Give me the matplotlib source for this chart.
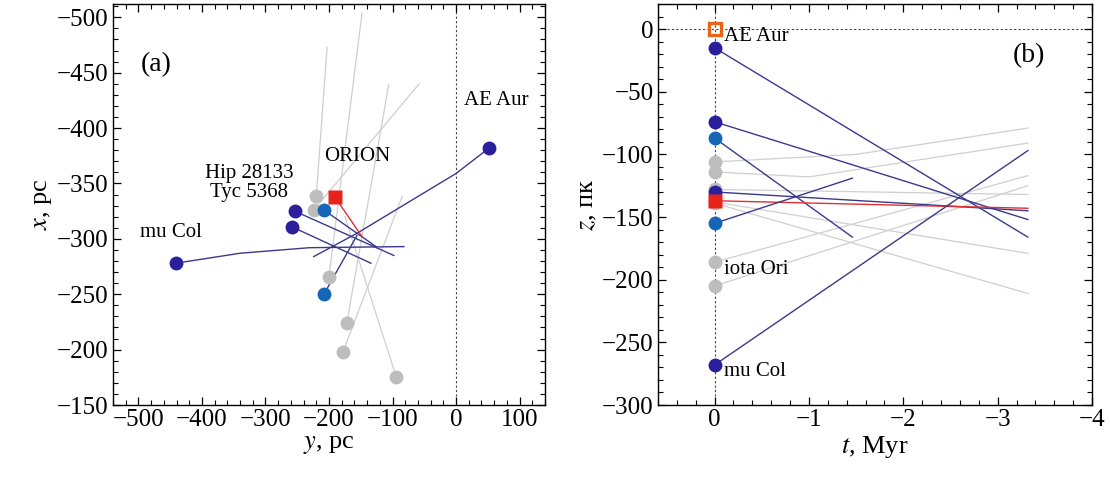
import matplotlib
matplotlib.use("Agg")
import matplotlib.pyplot as plt
from matplotlib.ticker import MultipleLocator

plt.rcParams['font.family'] = ['Liberation Serif', 'DejaVu Serif']
plt.rcParams['mathtext.fontset'] = 'stix'

# ---------------- data: panel (a), positions (y, x) in pc ----------------
# colored stars: trajectories as polylines (y list, x list); first point = present position
a_col_names = ["AE Aur", "mu Col", "Hip 28133", "Tyc 5368", "blue1", "blue2", "ORION"]
a_col_y = [[52, 0, -156, -224],
           [-441, -340, -231, -82],
           [-254, -98],
           [-259, -134],
           [-208, -126],
           [-208, -156],
           [-191, -148]]
a_col_x = [[-382, -359, -305, -284],
           [-278, -287, -292, -293],
           [-325, -285],
           [-311, -278],
           [-326, -293],
           [-250, -303],
           [-338, -302]]
a_col_kind = ["indigo", "indigo", "indigo", "indigo", "blue", "blue", "red"]

# gray stars
a_gray_y = [[-220, -203], [-224, -58], [-200, -148], [-172, -106], [-178, -85], [-94, -175]]
a_gray_x = [[-339, -473], [-326, -440], [-266, -504], [-224, -439], [-198, -338], [-175, -320]]

# ---------------- data: panel (b), z(t) ----------------
b_col_t = [[0, -3.32], [0, -3.32], [0, -1.46], [0, -3.32], [0, -3.32], [0, -1.46], [0, -3.32]]
b_col_z = [[-15, -166], [-74, -152], [-87, -166], [-130, -145], [-137, -143], [-155, -119], [-268, -97]]
b_col_kind = ["indigo", "indigo", "blue", "indigo", "red", "blue", "indigo"]

b_gray_t = [[0, -1.5, -3.32], [0, -1.0, -3.32], [0, -3.32], [0, -3.32], [0, -3.32], [0, -3.32], [0, -3.32]]
b_gray_z = [[-106, -100, -79], [-114, -118, -91], [-186, -117], [-205, -125], [-128, -132], [-138, -179], [-139, -211]]

sun_t, sun_z = 0, 0

colors = {"indigo": "#2b1f9c", "blue": "#1566b7", "red": "#e8231c", "gray": "#bdbdbd"}
linecolors = {"indigo": "#3a3a8c", "blue": "#3a3a8c", "red": "#e03030", "gray": "#cfcfcf"}

fig = plt.figure(figsize=(11.1, 4.87), dpi=100)
ax1 = fig.add_axes([113/1110, 82/487, 432/1110, 401/487])
ax2 = fig.add_axes([658/1110, 82/487, 434/1110, 401/487])

MS = 10
# ---- panel (a)
for ys, xs in zip(a_gray_y, a_gray_x):
    ax1.plot(ys, xs, color=linecolors["gray"], lw=0.9, zorder=1)
for ys, xs, k in zip(a_col_y, a_col_x, a_col_kind):
    ax1.plot(ys, xs, color=linecolors[k], lw=1.0, zorder=2)
for ys, xs in zip(a_gray_y, a_gray_x):
    ax1.plot(ys[0], xs[0], 'o', ms=MS, color=colors["gray"], mec='none', zorder=3)
for ys, xs, k in zip(a_col_y, a_col_x, a_col_kind):
    m = 's' if k == "red" else 'o'
    ax1.plot(ys[0], xs[0], m, ms=MS, color=colors[k], mec='none', zorder=4)

ax1.axvline(0, color='#444444', lw=0.8, ls=(0, (2, 2)), zorder=0)
ax1.set_xlim(-540, 140)
ax1.set_ylim(-150, -512)
ax1.xaxis.set_major_locator(MultipleLocator(100))
ax1.xaxis.set_minor_locator(MultipleLocator(20))
ax1.yaxis.set_major_locator(MultipleLocator(50))
ax1.yaxis.set_minor_locator(MultipleLocator(10))
ax1.set_xlabel("$y$, pc", fontsize=19, labelpad=2)
ax1.set_ylabel("$x$, pc", fontsize=19, labelpad=2)

tf = 15
ax1.text(-472, -457, "(a)", fontsize=20, ha='center', va='center')
ax1.text(12, -425, "AE Aur", fontsize=tf, ha='left', va='center')
ax1.text(-156, -374, "ORION", fontsize=tf, ha='center', va='center')
ax1.text(-326, -359, "Hip 28133", fontsize=tf, ha='center', va='center')
ax1.text(-326, -342, "Tyc 5368", fontsize=tf, ha='center', va='center')
ax1.text(-449, -306, "mu Col", fontsize=tf, ha='center', va='center')

# ---- panel (b)
for ts, zs in zip(b_gray_t, b_gray_z):
    ax2.plot(ts, zs, color=linecolors["gray"], lw=0.9, zorder=1)
for ts, zs, k in zip(b_col_t, b_col_z, b_col_kind):
    ax2.plot(ts, zs, color=linecolors[k], lw=1.0, zorder=2)
for ts, zs in zip(b_gray_t, b_gray_z):
    ax2.plot(ts[0], zs[0], 'o', ms=MS, color=colors["gray"], mec='none', zorder=3)
for ts, zs, k in zip(b_col_t, b_col_z, b_col_kind):
    m = 's' if k == "red" else 'o'
    ax2.plot(ts[0], zs[0], m, ms=MS, color=colors[k], mec='none', zorder=4)
ax2.plot(sun_t, sun_z, 's', ms=9, mfc='none', mec='#e8641a', mew=2.4, zorder=5)
ax2.axhline(0, color='#444444', lw=0.8, ls=(0, (2, 2)), zorder=0)
ax2.axvline(0, color='#444444', lw=0.8, ls=(0, (2, 2)), zorder=0)
ax2.set_xlim(0.6, -4)
ax2.set_ylim(-300, 20)
ax2.xaxis.set_major_locator(MultipleLocator(1))
ax2.xaxis.set_minor_locator(MultipleLocator(0.2))
ax2.yaxis.set_major_locator(MultipleLocator(50))
ax2.yaxis.set_minor_locator(MultipleLocator(10))
ax2.set_xlabel("$t$, Myr", fontsize=19, labelpad=2)
ax2.set_ylabel("$z$, пк", fontsize=19, labelpad=2)

ax2.text(-3.33, -21, "(b)", fontsize=20, ha='center', va='center')
ax2.text(-0.1, -6, "AE Aur", fontsize=tf, ha='left', va='center')
ax2.text(-0.1, -192, "iota Ori", fontsize=tf, ha='left', va='center')
ax2.text(-0.1, -273, "mu Col", fontsize=tf, ha='left', va='center')

for ax in (ax1, ax2):
    ax.tick_params(which='both', direction='in', top=True, right=True, labelsize=18, pad=3)
    ax.tick_params(which='major', length=6, width=0.9)
    ax.tick_params(which='minor', length=3.5, width=0.8)
    for s in ax.spines.values():
        s.set_linewidth(1.0)

fig.savefig("out.png", dpi=100)
